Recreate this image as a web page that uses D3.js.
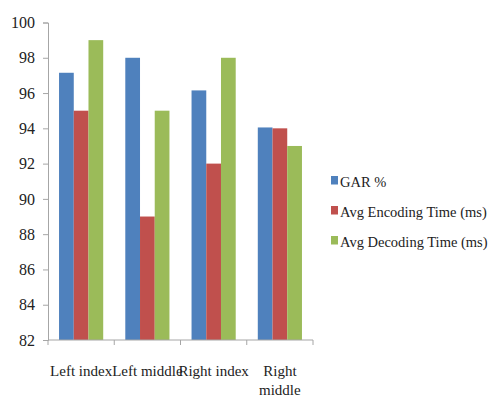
<!DOCTYPE html>
<html><head><meta charset="utf-8">
<script src="https://cdn.jsdelivr.net/npm/d3@7"></script>
<style>body{margin:0;background:#fff}svg{display:block}svg text{font-family:"Liberation Serif","Times New Roman",serif}</style>
</head><body>
<script>
const categories = ["Left index", "Left middle", "Right index", "Right middle"];
const categoryLines = [["Left index"], ["Left middle"], ["Right index"], ["Right", "middle"]];
const seriesNames = ["GAR %", "Avg Encoding Time (ms)", "Avg Decoding Time (ms)"];
const garValues = [97.15, 98.0, 96.15, 94.05];
const encodingValues = [95, 89, 92, 94];
const decodingValues = [99, 95, 98, 93];
const yTicks = [82, 84, 86, 88, 90, 92, 94, 96, 98, 100];
const colors = ["#4F81BD", "#C0504D", "#9BBB59"];

const series = [garValues, encodingValues, decodingValues];
const W = 490, H = 398;
const svg = d3.select("body").append("svg").attr("width", W).attr("height", H);

const x = d3.scaleBand().domain(categories).range([48, 313]);
const bw = x.bandwidth();
const w = bw / 4.5;
const x1 = d3.scaleBand().domain(d3.range(3)).range([w * 0.75, bw - w * 0.75]);
const y = d3.scaleLinear().domain([82, 100]).range([340, 22.5]);

// bars
const groups = svg.append("g").selectAll("g").data(categories).join("g")
  .attr("transform", d => `translate(${x(d)},0)`);
groups.selectAll("rect").data((d, i) => series.map((s, k) => ({k, v: s[i]}))).join("rect")
  .attr("x", d => x1(d.k)).attr("width", x1.bandwidth())
  .attr("y", d => y(d.v)).attr("height", d => y(82) - y(d.v))
  .attr("fill", d => colors[d.k]);

// y axis
const yAxis = svg.append("g").attr("transform", "translate(48,0)")
  .call(d3.axisLeft(y).tickValues(yTicks).tickSize(5).tickPadding(8).tickFormat(d3.format("d")));
yAxis.attr("font-family", null);
yAxis.select(".domain").attr("stroke", "#a6a6a6");
yAxis.selectAll(".tick line").attr("stroke", "#a6a6a6");
yAxis.selectAll("text").style("font-size", "16px").attr("fill", "#222");

// x axis
const xg = svg.append("g");
xg.append("line").attr("x1", 48).attr("x2", 313).attr("y1", y(82)).attr("y2", y(82)).attr("stroke", "#a6a6a6");
const bounds = categories.map(c => x(c)).concat([x.range()[1]]);
xg.selectAll("line.tk").data(bounds).join("line").attr("class", "tk")
  .attr("x1", d => d).attr("x2", d => d).attr("y1", y(82)).attr("y2", y(82) + 5).attr("stroke", "#a6a6a6");
const lab = xg.selectAll("text").data(categories).join("text")
  .attr("x", d => x(d) + bw / 2).attr("y", 376)
  .attr("text-anchor", "middle").style("font-size", "15px").attr("fill", "#222");
lab.each(function(d, i) {
  const t = d3.select(this);
  categoryLines[i].forEach((ln, j) => {
    t.append("tspan").attr("x", x(d) + bw / 2).attr("dy", j === 0 ? 0 : 19).text(ln);
  });
});

// legend
const lg = svg.append("g");
seriesNames.forEach((name, k) => {
  const cy = 180.5 + k * 30;
  lg.append("rect").attr("x", 331).attr("y", cy - 4.5).attr("width", 7).attr("height", 8.5).attr("fill", colors[k]);
  lg.append("text").attr("x", 340).attr("y", cy + 6).style("font-size", "14.5px")
    .attr("fill", "#222").text(name);
});
</script>
</body></html>
